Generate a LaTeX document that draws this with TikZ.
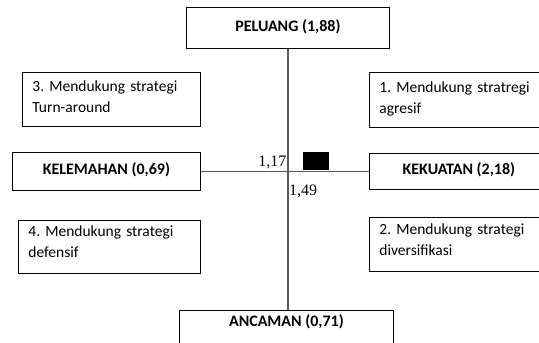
\documentclass[tikz,border=0pt]{standalone}
\usepackage{fontspec}
\setmainfont{Carlito}
\newfontfamily\numfont{Liberation Serif}
\usepackage{tikz}
\frenchspacing

\begin{document}
\begin{tikzpicture}[x=1pt,y=-1pt,
  faktor/.style={draw, line width=0.8pt, inner sep=0pt, anchor=north west,
    font=\fontsize{16}{18}\selectfont\bfseries},
  strategi/.style={draw, line width=0.8pt, inner ysep=0pt, inner xsep=10pt,
    anchor=north west, align=left, font=\fontsize{15.5}{21.5}\selectfont},
  sumbu/.style={draw=black!65, line width=1.2pt},
  nilai/.style={inner sep=0pt, font=\numfont\fontsize{16}{18}\selectfont}]
\useasboundingbox (0,0) rectangle (539,343);
\clip (0,0) rectangle (539,343);

% faktor internal dan eksternal
\node[faktor, minimum width=203pt, text height=24pt, text depth=17pt] (peluang) at (186,7) {PELUANG (1,88)};
\node[faktor, minimum width=188pt, text height=22pt, text depth=16pt] (kelemahan) at (12,152) {KELEMAHAN (0,69)};
\node[faktor, minimum width=179pt, text height=21pt, text depth=15pt] (kekuatan) at (369,153) {KEKUATAN (2,18)};
\node[faktor, minimum width=214pt, text height=16pt, text depth=40pt] (ancaman) at (179,310) {ANCAMAN (0,71)};

% kuadran strategi
\node[strategi, text width=158pt, text height=19pt, text depth=35pt] (kuadran3) at (22,72) {3. Mendukung strategi\\Turn-around};
\node[strategi, text width=160pt, text height=20pt, text depth=35pt] (kuadran1) at (369,72) {1. Mendukung stratregi\\agresif};
\node[strategi, text width=162pt, text height=16pt, text depth=37pt] (kuadran4) at (18,220) {4. Mendukung strategi\\defensif};
\node[strategi, text width=160pt, text height=17pt, text depth=37pt] (kuadran2) at (369,217) {2. Mendukung strategi\\diversifikasi};

% sumbu
\draw[sumbu] (peluang.south) -- (peluang.south |- ancaman.north);
\draw[sumbu] (kelemahan.east) -- (kelemahan.east -| kekuatan.west);

% posisi
\node[fill=black, inner sep=0pt, minimum width=26pt, minimum height=17.5pt, anchor=north west] (titik) at (302.5,151.8) {};
\node[nilai, anchor=base east] (nilaix) at (286.5,166) {1,17};
\node[nilai, anchor=base west] (nilaiy) at (289,195.5) {1,49};
\end{tikzpicture}
\end{document}
